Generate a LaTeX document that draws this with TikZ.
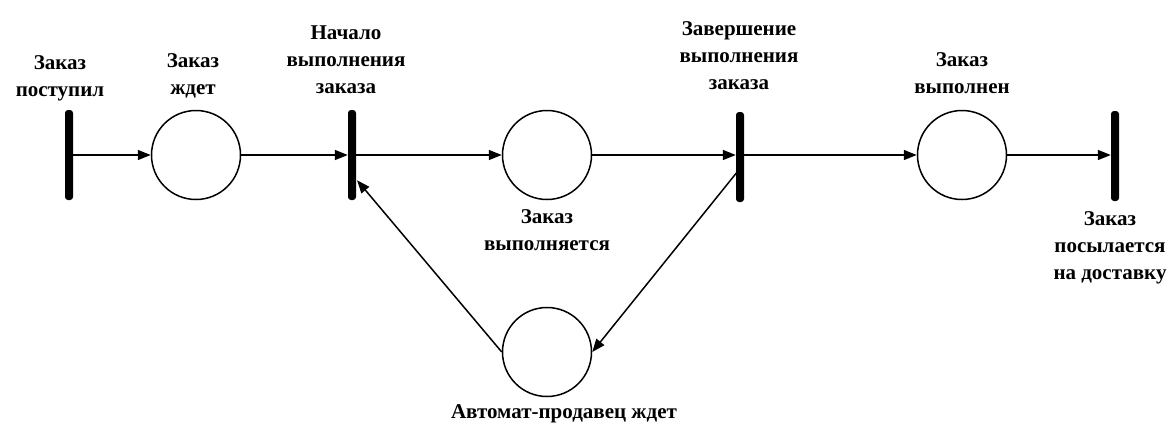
\documentclass[tikz,border=0pt]{standalone}
\usepackage{fontspec}
\setmainfont{Liberation Serif}
\usetikzlibrary{arrows.meta}
\begin{document}
\begin{tikzpicture}[x=1pt,y=-1pt,
  place/.style={circle,draw,line width=1.5pt,minimum size=89pt,inner sep=0pt},
  trans/.style={rectangle,fill=black,minimum width=8pt,minimum height=90pt,inner sep=0pt,rounded corners=3pt},
  lbl/.style={align=center,inner sep=0pt,font=\fontsize{21}{27}\selectfont\bfseries},
  arc/.style={line width=1.5pt,-{Triangle[length=13pt,width=10pt]}}]
\useasboundingbox (0,0) rectangle (1172,426);
\node[trans] (T1) at (69,155) {};
\node[place] (P1) at (196,155) {};
\node[trans] (T2) at (352,155) {};
\node[place] (P2) at (547,155) {};
\node[trans] (T3) at (740,157) {};
\node[place] (P3) at (962,155) {};
\node[trans] (T4) at (1115,156) {};
\node[place] (P4) at (547,352) {};
\node[lbl] (L1) at (60,78) {Заказ\\поступил};
\node[lbl] (L2) at (193,76) {Заказ\\ждет};
\node[lbl] (L3) at (346,60) {Начало\\выполнения\\заказа};
\node[lbl] (L4) at (739,56) {Завершение\\выполнения\\заказа};
\node[lbl] (L5) at (962,73) {Заказ\\выполнен};
\node[lbl] (L6) at (1110,248) {Заказ\\посылается\\на доставку};
\node[lbl] (L7) at (547,230) {Заказ\\выполняется};
\node[lbl] (L8) at (564,414) {Автомат-продавец ждет};
\draw[arc] (T1.east |- P1) -- (P1.west);
\draw[arc] (P1.east) -- (T2.west |- P1);
\draw[arc] (T2.east |- P2) -- (P2.west);
\draw[arc] (P2.east) -- (T3.west |- P2);
\draw[arc] (T3.east |- P3) -- (P3.west);
\draw[arc] (P3.east) -- (T4.west |- P3);
\draw[arc] ([shift={(-3,-30)}]T3.south) -- (P4.east);
\draw[arc] (P4.west) -- ([shift={(5,-20)}]T2.south);
\end{tikzpicture}
\end{document}
